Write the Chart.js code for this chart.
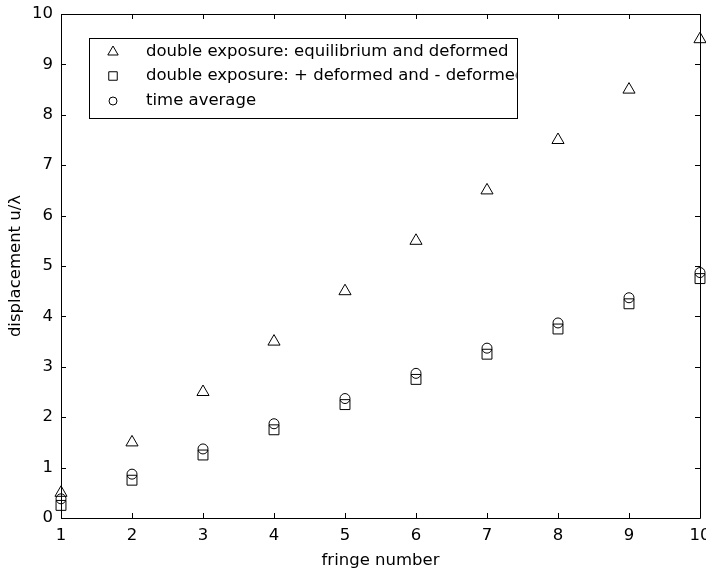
<!DOCTYPE html>
<html><head><meta charset="utf-8">
<script src="https://cdn.jsdelivr.net/npm/chart.js@4/dist/chart.umd.min.js"></script>
<style>html,body{margin:0;padding:0;background:#fff}#wrap{width:706px;height:573px}</style>
</head><body><div id="wrap"><canvas id="c" width="706" height="573"></canvas></div>
<script>
const fringeNumbers = [1, 2, 3, 4, 5, 6, 7, 8, 9, 10];
const equilibriumDeformed = [0.5, 1.5, 2.5, 3.5, 4.5, 5.5, 6.5, 7.5, 8.5, 9.5];
const plusMinusDeformed = [0.25, 0.75, 1.25, 1.75, 2.25, 2.75, 3.25, 3.75, 4.25, 4.75];
const timeAverage = [0.38, 0.87, 1.37, 1.87, 2.37, 2.87, 3.37, 3.87, 4.37, 4.87];
const xTickValues = [1, 2, 3, 4, 5, 6, 7, 8, 9, 10];
const yTickValues = [0, 1, 2, 3, 4, 5, 6, 7, 8, 9, 10];
const seriesLabels = [
  'double exposure: equilibrium and deformed',
  'double exposure: + deformed and - deformed',
  'time average'
];

const FONT = 'DejaVu Sans';
const FS = 16.5;
const pts = arr => fringeNumbers.map((x, i) => ({x: x, y: arr[i]}));

const framePlugin = {
  id: 'frame',
  afterDatasetsDraw(chart) {
    const {ctx, chartArea: a, scales: {x, y}} = chart;
    ctx.save();
    ctx.strokeStyle = '#000';
    ctx.lineWidth = 1;
    ctx.beginPath();
    ctx.rect(Math.round(a.left) + 0.5, Math.round(a.top) + 0.5, Math.round(a.right - a.left), Math.round(a.bottom - a.top));
    const L = 5;
    xTickValues.forEach(v => {
      const px = Math.round(x.getPixelForValue(v)) + 0.5;
      ctx.moveTo(px, a.bottom); ctx.lineTo(px, a.bottom - L);
      ctx.moveTo(px, a.top); ctx.lineTo(px, a.top + L);
    });
    yTickValues.forEach(v => {
      const py = Math.round(y.getPixelForValue(v)) + 0.5;
      ctx.moveTo(a.left, py); ctx.lineTo(a.left + L, py);
      ctx.moveTo(a.right, py); ctx.lineTo(a.right - L, py);
    });
    ctx.stroke();
    ctx.restore();
  }
};

const legendPlugin = {
  id: 'boxLegend',
  afterDraw(chart) {
    const ctx = chart.ctx;
    ctx.save();
    const bx = 89.5, by = 38.5, bw = 428, bh = 80;
    ctx.fillStyle = '#fff';
    ctx.fillRect(bx, by, bw, bh);
    ctx.strokeStyle = '#000';
    ctx.lineWidth = 1;
    ctx.strokeRect(bx, by, bw, bh);
    ctx.beginPath();
    ctx.rect(bx, by, bw - 1, bh);
    ctx.clip();
    const rows = [52, 76, 101];
    ctx.textBaseline = 'middle';
    ctx.textAlign = 'left';
    chart.data.datasets.forEach((ds, i) => {
      ctx.fillStyle = 'rgba(0,0,0,0)';
      ctx.strokeStyle = '#000';
      ctx.lineWidth = 1;
      Chart.helpers.drawPoint(ctx, {
        pointStyle: ds.pointStyle, radius: ds.pointRadius - 1, rotation: 0, borderWidth: 1
      }, 113, rows[i]);
      ctx.font = FS + 'px "' + FONT + '"';
      ctx.fillStyle = '#000';
      ctx.fillText(ds.label, 146, rows[i]);
    });
    ctx.restore();
  }
};

const common = {showLine: false, borderColor: '#000', backgroundColor: 'rgba(0,0,0,0)', borderWidth: 1, clip: false};

new Chart(document.getElementById('c'), {
  type: 'scatter',
  data: {
    datasets: [
      Object.assign({label: seriesLabels[0], data: pts(equilibriumDeformed), pointStyle: 'triangle', pointRadius: 7}, common),
      Object.assign({label: seriesLabels[1], data: pts(plusMinusDeformed), pointStyle: 'rect', pointRadius: 7}, common),
      Object.assign({label: seriesLabels[2], data: pts(timeAverage), pointStyle: 'circle', pointRadius: 5}, common)
    ]
  },
  options: {
    responsive: false,
    animation: false,
    devicePixelRatio: 1,
    layout: {autoPadding: false, padding: {left: 0, right: 6, top: 14, bottom: 0}},
    plugins: {legend: {display: false}, tooltip: {enabled: false}},
    scales: {
      x: {
        type: 'linear', min: 1, max: 10,
        afterFit: s => { s.height = 55; s.paddingLeft = 0; s.paddingRight = 0; },
        afterBuildTicks: s => { s.ticks = xTickValues.map(v => ({value: v})); },
        grid: {display: false, drawTicks: false},
        border: {display: false},
        ticks: {color: '#000', font: {family: FONT, size: FS}, padding: 8, maxRotation: 0},
        title: {display: true, text: 'fringe number', color: '#000', font: {family: FONT, size: FS}, padding: {top: 0, bottom: 2}}
      },
      y: {
        type: 'linear', min: 0, max: 10,
        afterFit: s => { s.width = 61; s.paddingTop = 0; s.paddingBottom = 0; },
        afterBuildTicks: s => { s.ticks = yTickValues.map(v => ({value: v})); },
        grid: {display: false, drawTicks: false},
        border: {display: false},
        ticks: {color: '#000', font: {family: FONT, size: FS}, padding: 8},
        title: {display: true, text: 'displacement u/λ', color: '#000', font: {family: FONT, size: FS}, padding: {top: 6, bottom: 0}}
      }
    }
  },
  plugins: [framePlugin, legendPlugin]
});
</script></body></html>
